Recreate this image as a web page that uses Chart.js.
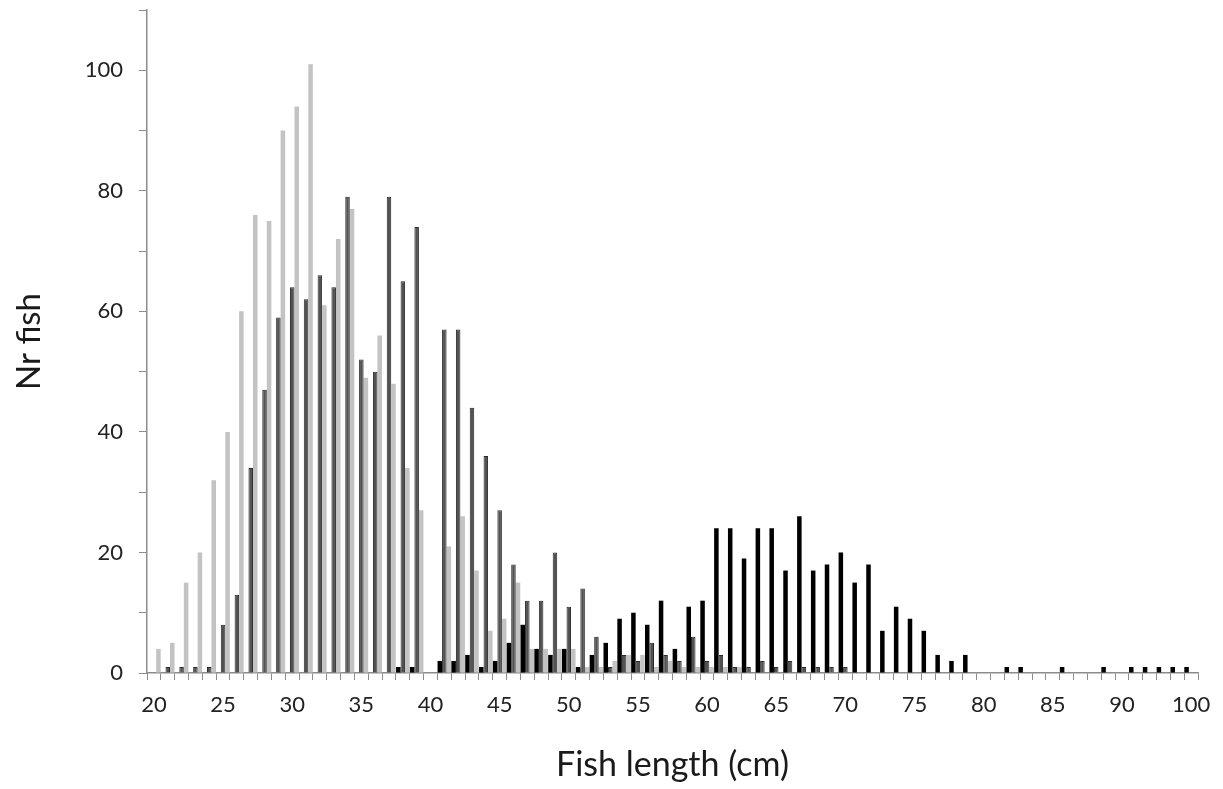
<!DOCTYPE html>
<html>
<head>
<meta charset="utf-8">
<script src="https://cdn.jsdelivr.net/npm/chart.js@4/dist/chart.umd.min.js"></script>
<style>
  html, body { margin: 0; padding: 0; background: #ffffff; }
  #wrap { width: 1223px; height: 789px; position: relative; }
</style>
</head>
<body>
<div id="wrap"><canvas id="c"></canvas></div>
<script>
// Fish length classes (cm)
const categories = [20,21,22,23,24,25,26,27,28,29,30,31,32,33,34,35,36,37,38,39,
  40,41,42,43,44,45,46,47,48,49,50,51,52,53,54,55,56,57,58,59,
  60,61,62,63,64,65,66,67,68,69,70,71,72,73,74,75,76,77,78,79,
  80,81,82,83,84,85,86,87,88,89,90,91,92,93,94,100];

// Black series
const seriesBlack = [0,0,0,0,0,0,0,0,0,0,0,0,0,0,0,0,0,0,1,1,
  0,2,2,3,1,2,5,8,4,3,4,1,3,5,9,10,8,12,4,11,
  12,24,24,19,24,24,17,26,17,18,20,15,18,7,11,9,7,3,2,3,
  0,0,1,1,0,0,1,0,0,1,0,1,1,1,1,1];

// Dark grey series
const seriesDark = [0,1,1,1,1,8,13,34,47,59,64,62,66,64,79,52,50,79,65,74,
  0,57,57,44,36,27,18,12,12,20,11,14,6,1,3,2,5,3,2,6,
  2,3,1,1,2,1,2,1,1,1,1,0,0,0,0,0,0,0,0,0,
  0,0,0,0,0,0,0,0,0,0,0,0,0,0,0,0];

// Light grey series
const seriesLight = [4,5,15,20,32,40,60,76,75,90,94,101,61,72,77,49,56,48,34,27,
  0,21,26,17,7,9,15,4,4,4,4,1,1,2,3,3,1,2,1,1,
  1,1,1,0,0,0,0,0,0,0,0,0,0,0,0,0,0,0,0,0,
  0,0,0,0,0,0,0,0,0,0,0,0,0,0,0,0];

const yTickLabels = [0, 20, 40, 60, 80, 100];

const FONT = "Lato, 'Noto Sans', sans-serif";
const axisGrey = '#8c8c8c';

new Chart(document.getElementById('c'), {
  type: 'bar',
  data: {
    labels: categories,
    datasets: [
      { label: 'Black', data: seriesBlack, backgroundColor: '#000000', borderWidth: 0 },
      { label: 'Dark grey', data: seriesDark, backgroundColor: '#525252', borderColor: '#2a2a2a', borderWidth: 1 },
      { label: 'Light grey', data: seriesLight, backgroundColor: '#c3c3c3', borderWidth: 0 }
    ]
  },
  options: {
    responsive: true,
    maintainAspectRatio: false,
    animation: false,
    datasets: { bar: { categoryPercentage: 0.98, barPercentage: 1.0 } },
    layout: { padding: { left: 0, top: 10, right: 25, bottom: 0 } },
    plugins: { legend: { display: false }, tooltip: { enabled: false } },
    scales: {
      x: {
        type: 'category',
        offset: true,
        grid: { display: true, offset: true, drawOnChartArea: false, drawTicks: true, tickLength: 7, color: axisGrey, lineWidth: 1 },
        border: { display: true, color: axisGrey, width: 1.5 },
        ticks: {
          autoSkip: false, maxRotation: 0, minRotation: 0, padding: 12,
          color: '#222222', font: { family: FONT, size: 22 },
          callback: function(v, i) { return i % 5 === 0 ? String(categories[i]) : ''; }
        },
        title: { display: true, text: 'Fish length (cm)', color: '#1a1a1a', font: { family: FONT, size: 34 }, padding: { top: 0, bottom: 4 } },
        afterFit: function(s) { s.height = 116; s.paddingLeft = 0; s.paddingRight = 0; }
      },
      y: {
        min: 0, max: 110,
        grid: { display: true, drawOnChartArea: false, drawTicks: true, tickLength: 8, color: axisGrey, lineWidth: 1 },
        border: { display: true, color: axisGrey, width: 1.5 },
        ticks: {
          stepSize: 10, padding: 16, color: '#222222', font: { family: FONT, size: 22 },
          callback: function(v) { return yTickLabels.indexOf(v) >= 0 ? String(v) : ''; }
        },
        title: { display: true, text: 'Nr fish', color: '#1a1a1a', font: { family: FONT, size: 33 }, padding: { top: 10, bottom: 0 } },
        afterFit: function(s) { s.width = 147; s.paddingTop = 0; s.paddingBottom = 0; }
      }
    }
  }
});
</script>
</body>
</html>
